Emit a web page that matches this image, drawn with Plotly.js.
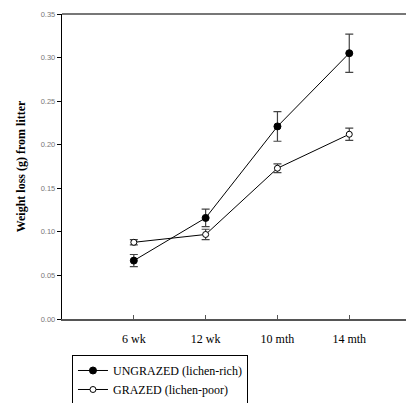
<!DOCTYPE html>
<html>
<head>
<meta charset="utf-8">
<script src="https://cdn.plot.ly/plotly-3.0.1.min.js"></script>
<style>html,body{margin:0;padding:0;background:#fff;}#chart{width:406px;height:403px;}</style>
</head>
<body>
<div id="chart"></div>
<script>
var categories = ["6 wk", "12 wk", "10 mth", "14 mth"];
var ungrazed = [0.067, 0.116, 0.221, 0.305];
var ungrazedErr = [0.007, 0.010, 0.017, 0.022];
var grazed = [0.088, 0.097, 0.173, 0.212];
var grazedErr = [0.003, 0.006, 0.005, 0.007];
var yTicks = [0, 0.05, 0.10, 0.15, 0.20, 0.25, 0.30, 0.35];
var yTickLabels = ["0.00", "0.05", "0.10", "0.15", "0.20", "0.25", "0.30", "0.35"];

var xpos = categories.map(function(c, i){ return i + 1; });

var traces = [
  {
    x: xpos, y: ungrazed, name: "UNGRAZED (lichen-rich)", type: "scatter", mode: "lines+markers",
    line: {color: "#000", width: 1},
    marker: {color: "#000", size: 7, symbol: "circle", line: {color: "#000", width: 1}},
    error_y: {type: "data", array: ungrazedErr, visible: true, color: "#444", thickness: 1.2, width: 4}
  },
  {
    x: xpos, y: grazed, name: "GRAZED (lichen-poor)", type: "scatter", mode: "lines+markers",
    line: {color: "#000", width: 1},
    marker: {color: "#fff", size: 6, symbol: "circle", line: {color: "#000", width: 1}},
    error_y: {type: "data", array: grazedErr, visible: true, color: "#444", thickness: 1.2, width: 4}
  }
];

var layout = {
  width: 406, height: 403,
  margin: {l: 62, r: 0, t: 14, b: 84, autoexpand: false},
  paper_bgcolor: "#fff", plot_bgcolor: "#fff",
  showlegend: true,
  legend: {
    x: 0.029, y: -0.118, xanchor: "left", yanchor: "top",
    bordercolor: "#000", borderwidth: 1,
    font: {family: "Liberation Serif, Times New Roman, serif", size: 12, color: "#000"},
    tracegroupgap: 0, itemwidth: 30
  },
  xaxis: {
    range: [0, 4.79], automargin: false,
    tickvals: xpos, ticktext: categories,
    ticks: "inside", ticklen: 4, tickcolor: "#555",
    ticklabelstandoff: 8,
    showline: true, linecolor: "#555", linewidth: 1.5,
    mirror: false, showgrid: false, zeroline: false,
    tickfont: {family: "Liberation Serif, Times New Roman, serif", size: 12, color: "#000"}
  },
  yaxis: {
    range: [0, 0.35], automargin: false,
    tickvals: yTicks, ticktext: yTickLabels,
    ticks: "outside", ticklen: 4, tickcolor: "#000",
    showline: true, linecolor: "#000", linewidth: 1.2,
    showgrid: false, zeroline: false,
    tickfont: {family: "Liberation Sans Narrow, Liberation Sans, Arial, sans-serif", size: 7.5, color: "#777"},
    title: {text: "Weight loss (g) from litter", standoff: 12,
      font: {family: "Liberation Serif, Times New Roman, serif", size: 12, color: "#000", weight: "bold"}}
  },
  shapes: [
    {type: "line", xref: "paper", yref: "paper", x0: 0, x1: 1, y0: 1, y1: 1, line: {color: "#777", width: 2}}
  ]
};

Plotly.newPlot("chart", traces, layout, {displayModeBar: false, staticPlot: true});
</script>
</body>
</html>
